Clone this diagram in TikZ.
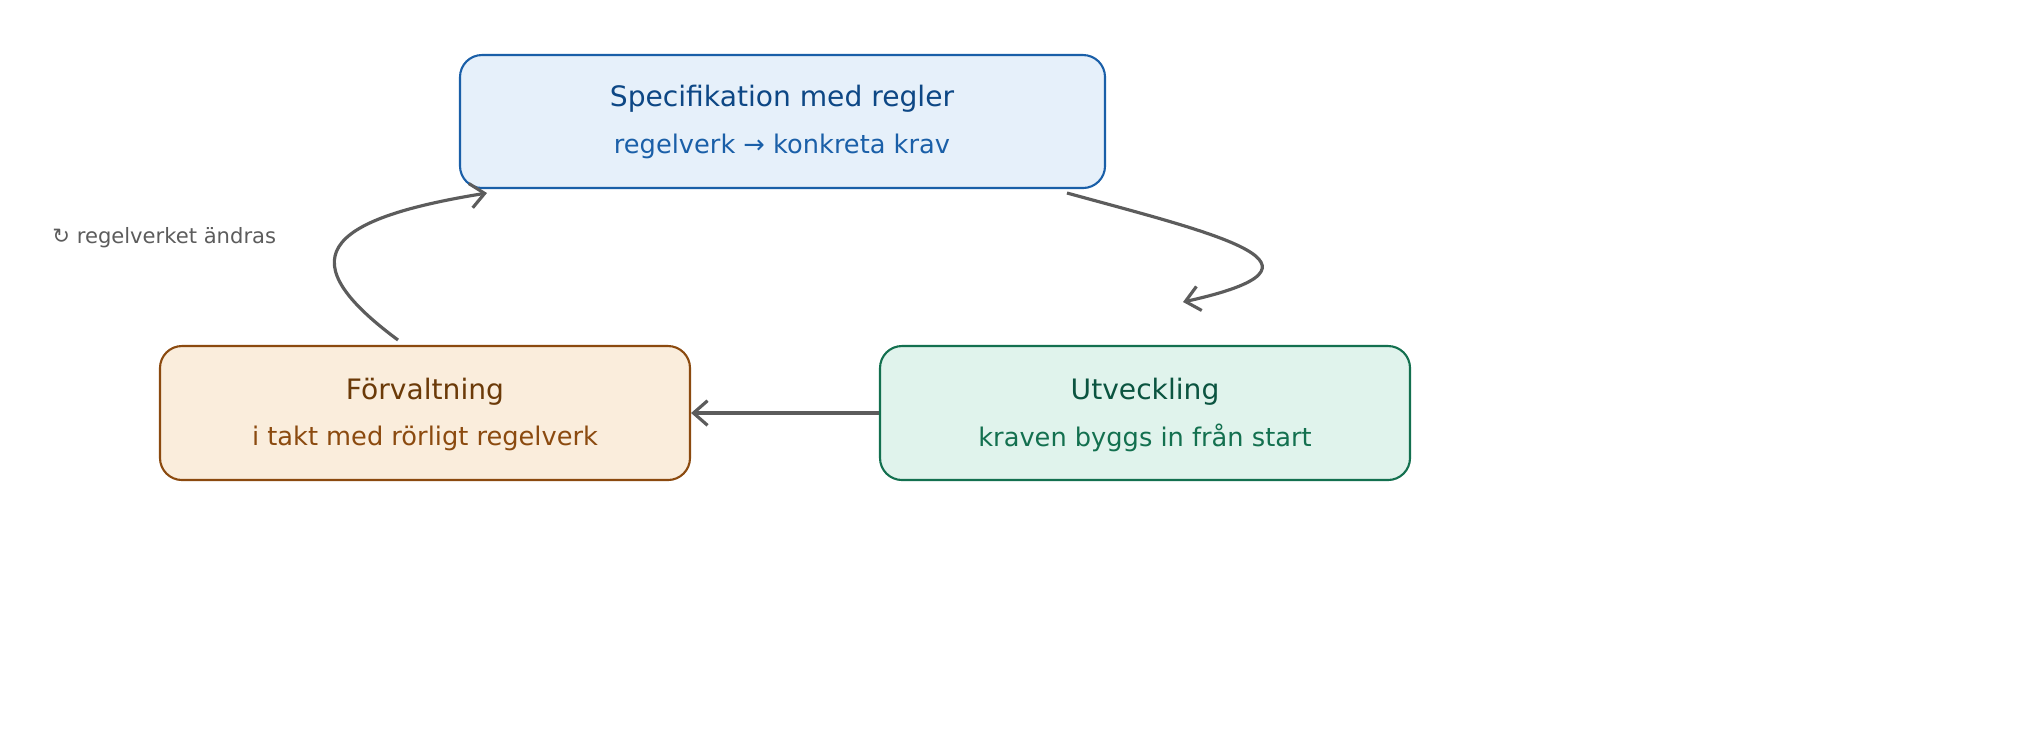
\documentclass[tikz,border=0pt]{standalone}
\usepackage{fontspec}
\setmainfont{DejaVu Sans}
\usetikzlibrary{arrows.meta}
\definecolor{bfill}{HTML}{E6F0FA}\definecolor{bline}{HTML}{1A5FA8}\definecolor{bdark}{HTML}{0D4785}
\definecolor{ofill}{HTML}{FAEDDC}\definecolor{oline}{HTML}{8B4A0F}\definecolor{odark}{HTML}{6B3A08}
\definecolor{gfill}{HTML}{E0F3EC}\definecolor{gline}{HTML}{13704F}\definecolor{gdark}{HTML}{0B5440}
\definecolor{conn}{HTML}{5C5C5C}
\begin{document}
\begin{tikzpicture}[x=0.01cm,y=-0.01cm,
  box/.style={draw,rounded corners=0.22cm,line width=0.6pt},
  ttl/.style={font=\fontsize{8}{9}\selectfont},
  sub/.style={font=\fontsize{7.3}{8}\selectfont},
  conn/.style={draw=conn,line width=0.9pt,-{Straight Barb[length=4pt,width=7pt]}}]
\useasboundingbox (0,0) rectangle (2040,732);
\node[box,fill=bfill,draw=bline,minimum width=645*0.01cm,minimum height=133*0.01cm] (spec) at (782.5,121.5) {};
\node[box,fill=ofill,draw=oline,minimum width=530*0.01cm,minimum height=134*0.01cm] (forv) at (425,413) {};
\node[box,fill=gfill,draw=gline,minimum width=530*0.01cm,minimum height=134*0.01cm] (utv) at (1145,413) {};
\node[ttl,text=bdark] (t1) at (782,99) {Specifikation med regler};
\node[sub,text=bline] (s1) at (782,146) {regelverk → konkreta krav};
\node[ttl,text=odark] (t2) at (425,392) {Förvaltning};
\node[sub,text=oline] (s2) at (425,438) {i takt med rörligt regelverk};
\node[ttl,text=gdark] (t3) at (1145,392) {Utveckling};
\node[sub,text=gline] (s3) at (1145,438) {kraven byggs in från start};
\node[text=conn,anchor=west,font=\fontsize{6}{7}\selectfont] (lbl) at (40,238) {↻ regelverket ändras};
\coordinate (a1) at (1067,193); \coordinate (a2) at (1183,302);
\coordinate (b1) at (398,340); \coordinate (b2) at (487,193);
\draw[conn] (utv.west) -- (forv.east);
\draw[conn] (a1) .. controls (1220,235) and (1350,265) .. (a2);
\draw[conn] (b1) .. controls (290,260) and (320,220) .. (b2);
\end{tikzpicture}
\end{document}
